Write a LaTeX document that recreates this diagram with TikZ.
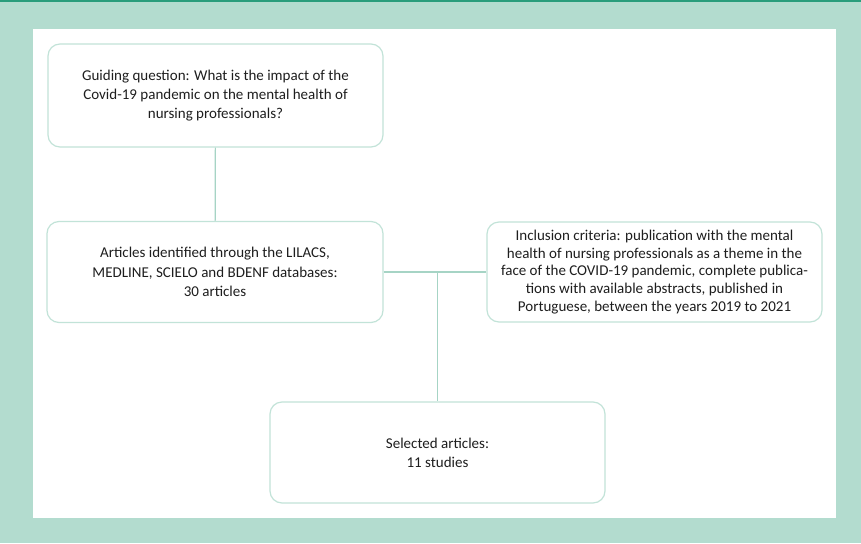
\documentclass[tikz,border=0pt]{standalone}
\usepackage{fontspec}
\setmainfont{Carlito}
\definecolor{mintbg}{HTML}{B3DCCF}
\definecolor{topline}{HTML}{2A9D7C}
\definecolor{boxline}{HTML}{C2E3D8}
\definecolor{linkline}{HTML}{A6D4C5}
\definecolor{textgray}{HTML}{1E1E1E}

\begin{document}
\begin{tikzpicture}[x=1pt,y=-1pt,
    stagebox/.style={draw=boxline, line width=1.2pt, rounded corners=12pt, fill=white,
        align=center, text=textgray, inner sep=0pt,
        font=\fontsize{15}{19.3}\selectfont},
    link/.style={draw=linkline, line width=1.2pt}]
        % background
        \fill[mintbg] (0,0) rectangle (861,543);
        \fill[topline] (0,0) rectangle (861,2);
        \fill[white] (33,29) rectangle (836,518);

        % stages
        \node[stagebox, minimum width=335pt, minimum height=103pt] (question) at (215.5,95.5)
            {Guiding question: What is the impact of the\\Covid-19 pandemic on the mental health of\\nursing professionals?};
        \node[stagebox, minimum width=336pt, minimum height=101pt] (identified) at (215,272)
            {Articles identified through the LILACS,\\MEDLINE, SCIELO and BDENF databases:\\30 articles};
        \node[stagebox, minimum width=335pt, minimum height=100pt, font=\fontsize{15}{17.8}\selectfont] (criteria) at (654.5,272)
            {Inclusion criteria: publication with the mental\\health of nursing professionals as a theme in the\\face of the COVID-19 pandemic, complete publica-\\tions with available abstracts, published in\\Portuguese, between the years 2019 to 2021};
        \node[stagebox, minimum width=335pt, minimum height=101pt] (selected) at (437.5,452.5)
            {Selected articles:\\11 studies};

        % connectors
        \coordinate (junc) at (selected.north |- identified.east);
        \draw[link] (question) -- (identified);
        \draw[link] (identified.east) -- (criteria.west);
        \draw[link] (junc) -- (selected);
    \end{tikzpicture}
\end{document}
